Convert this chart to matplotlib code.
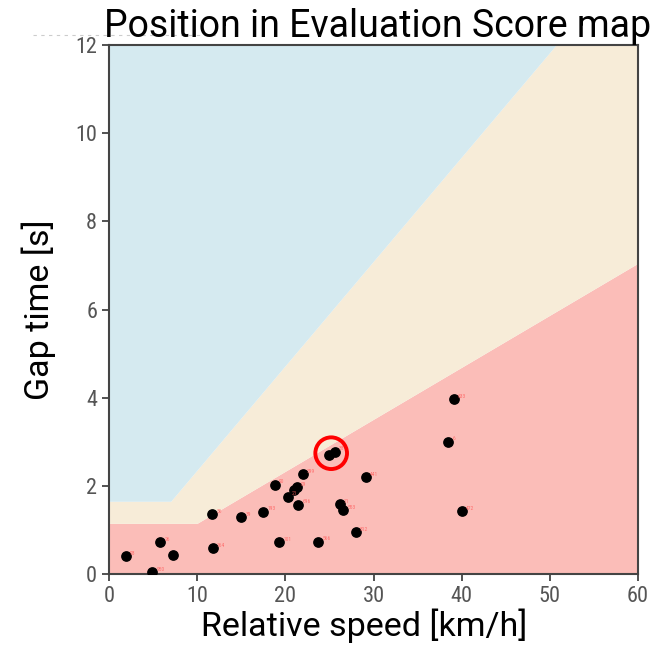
import matplotlib
matplotlib.use("Agg")
import matplotlib.pyplot as plt
from matplotlib import font_manager
import numpy as np

# narrow face for tick numbers, regular width for captions
names = {f.name for f in font_manager.fontManager.ttflist}
narrow = 'Roboto Condensed' if 'Roboto Condensed' in names else 'Liberation Sans'
plt.rcParams['font.family'] = [narrow, 'DejaVu Sans']
caption = ['Roboto', 'DejaVu Sans']

# zone boundaries (relative speed km/h -> gap time s)
low_x = [0, 10, 60]
low_y = [1.15, 1.15, 7.05]
high_x = [0, 7, 50.7, 60]
high_y = [1.65, 1.65, 12, 12]

# measured scenes
speed = [1.9, 5.8, 7.3, 4.9, 11.7, 11.75, 15.0, 17.5, 19.3, 18.8, 20.25, 21.0,
         21.3, 21.45, 21.95, 24.9, 25.6, 29.1, 26.2, 26.55, 28.0, 23.7, 39.1,
         38.5, 40.0]
gap = [0.41, 0.72, 0.44, 0.04, 1.35, 0.59, 1.29, 1.41, 0.72, 2.03, 1.75, 1.91,
       1.97, 1.57, 2.26, 2.69, 2.77, 2.19, 1.59, 1.45, 0.95, 0.73, 3.97,
       3.0, 1.43]
ids = ['98', '26', '', '950', '86', '764', '39', '193', '701', '90', '21', '',
       '09', '696', '599', '', '38', '441', '71', '553', '812', '566', '633',
       '6', '472']

# highlighted scene
mark_speed = 25.2
mark_gap = 2.74

fig = plt.figure(figsize=(6.63, 6.45), dpi=100)
ax = fig.add_axes([0.1644, 0.1101, 0.7979, 0.8201])

xs = np.linspace(0, 60, 601)
lo = np.interp(xs, low_x, low_y)
hi = np.interp(xs, high_x, high_y)
ax.fill_between(xs, 0, lo, color='#fbbdb8', lw=0)
ax.fill_between(xs, lo, hi, color='#f7ecd8', lw=0)
ax.fill_between(xs, hi, 12, color='#d5eaf0', lw=0)

ax.scatter(speed, gap, s=45, color='black', zorder=3)
for sx, gy, t in zip(speed, gap, ids):
    ax.annotate(t, (sx, gy), xytext=(3, 1), textcoords='offset points',
                fontsize=4, color='#ff5a5a', alpha=0.8)

ax.scatter([mark_speed], [mark_gap], s=520, facecolors='none',
           edgecolors='#ff0000', linewidths=2.8, zorder=4)

ax.set_xlim(0, 60)
ax.set_ylim(0, 12)
ax.set_xticks([0, 10, 20, 30, 40, 50, 60])
ax.set_yticks([0, 2, 4, 6, 8, 10, 12])
ax.tick_params(labelsize=16, labelcolor='#555555', color='#444444',
               length=5, width=1.3)
for s in ax.spines.values():
    s.set_color('#444444')
    s.set_linewidth(1.5)

ax.set_xlabel('Relative speed [km/h]', fontsize=24.5, family=caption)
ax.xaxis.label.set_va('baseline')
ax.xaxis.set_label_coords(0.482, -0.118)
ax.set_ylabel('Gap time [s]', fontsize=24.5, family=caption)
ax.yaxis.set_label_coords(-0.10, 0.5)
fig.text(0.570, 0.943, 'Position in Evaluation Score map', fontsize=27,
         family=caption, ha='center', va='baseline')

# faint dashed guide at the top left
fig.add_artist(plt.Line2D([0.05, 0.33], [0.946, 0.946], color='#cccccc',
                          lw=0.8, ls=(0, (3, 4))))

fig.savefig('out.png', dpi=100)
